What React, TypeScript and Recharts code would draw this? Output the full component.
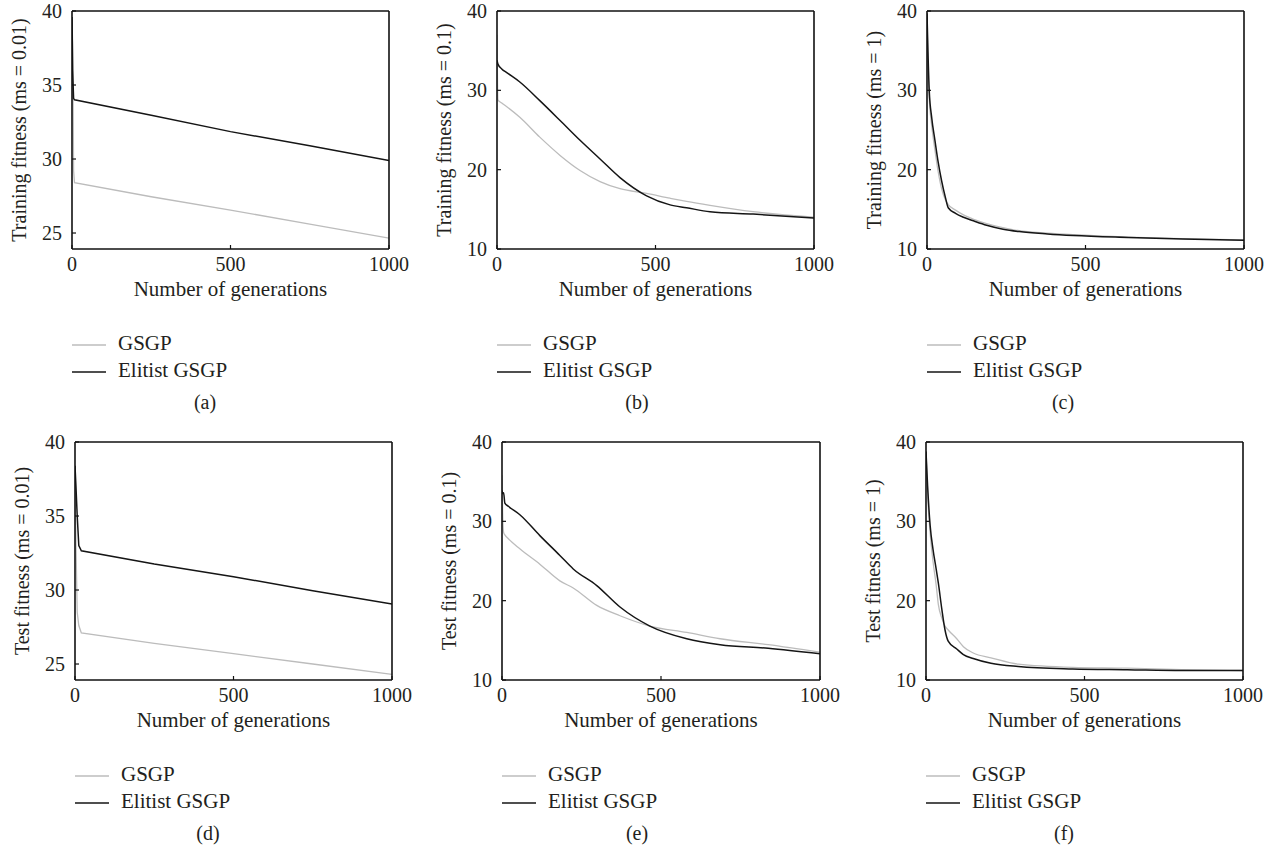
import React from 'react';
import { LineChart, Line, XAxis, YAxis, Legend, Label } from 'recharts';

// ---------- data ----------
const seriesNames = ['GSGP', 'Elitist GSGP'];
const seriesColors = ['#bcbcbc', '#151515'];
const xTicks = [0, 500, 1000];
const yTicksLow = [25, 30, 35, 40];
const yTicksHigh = [10, 20, 30, 40];

// (a) Training fitness, ms = 0.01
const genA = [0, 2, 5, 8, 250, 500, 750, 1000];
const gsgpA = [39.4, 37.8, 29.2, 28.4, 27.45, 26.55, 25.6, 24.65];
const elitistA = [39.6, 36.0, 34.1, 34.0, 32.95, 31.85, 30.9, 29.9];

// (b) Training fitness, ms = 0.1
const genB = [0, 3, 15, 32, 72, 135, 199, 262, 325, 388, 472, 546, 598, 672, 808, 1000];
const gsgpB = [37.0, 28.8, 28.4, 27.9, 26.6, 24.1, 21.8, 19.9, 18.5, 17.6, 17.0, 16.4, 16.0, 15.5, 14.7, 14.0];
const elitistB = [33.8, 33.3, 32.7, 32.2, 31.05, 28.7, 26.2, 23.7, 21.35, 19.0, 16.7, 15.56, 15.2, 14.7, 14.4, 13.9];

// (c) Training fitness, ms = 1
const genC = [0, 3, 7, 15, 25, 35, 46, 58, 67, 90, 115, 150, 188, 240, 291, 380, 463, 635, 807, 1000];
const gsgpC = [39.5, 33.0, 29.0, 25.5, 22.5, 19.8, 17.6, 16.2, 15.6, 14.9, 14.3, 13.7, 13.2, 12.7, 12.3, 12.0, 11.8, 11.5, 11.3, 11.15];
const elitistC = [39.7, 35.0, 30.0, 26.5, 23.7, 21.0, 18.6, 16.5, 15.2, 14.5, 14.0, 13.5, 13.0, 12.5, 12.2, 11.9, 11.7, 11.45, 11.25, 11.1];

// (d) Test fitness, ms = 0.01
const genD = [0, 3, 7, 12, 20, 250, 500, 750, 1000];
const gsgpD = [38.4, 33.0, 28.5, 27.6, 27.1, 26.4, 25.7, 25.0, 24.3];
const elitistD = [38.4, 37.0, 35.0, 33.0, 32.65, 31.75, 30.9, 29.95, 29.05];

// (e) Test fitness, ms = 0.1
const genE = [0, 2, 5, 9, 20, 57, 119, 182, 224, 298, 371, 465, 581, 686, 837, 1000];
const gsgpE = [35.8, 31.0, 28.6, 28.3, 27.8, 26.5, 24.6, 22.5, 21.6, 19.4, 18.1, 16.8, 16.0, 15.2, 14.45, 13.5];
const elitistE = [33.9, 33.5, 33.6, 32.3, 31.9, 30.8, 28.2, 25.7, 24.0, 21.9, 19.2, 16.8, 15.2, 14.45, 14.0, 13.3];

// (f) Test fitness, ms = 1
const genF = [0, 5, 13, 22, 32, 39, 50, 60, 70, 97, 118, 149, 205, 291, 463, 635, 807, 1000];
const gsgpF = [38.8, 33.5, 28.6, 25.0, 22.0, 19.5, 17.8, 16.8, 16.3, 15.2, 14.2, 13.4, 12.8, 12.0, 11.6, 11.5, 11.3, 11.2];
const elitistF = [38.8, 34.5, 29.5, 26.5, 24.0, 22.2, 18.9, 16.3, 14.9, 13.9, 13.2, 12.7, 12.1, 11.7, 11.4, 11.3, 11.2, 11.2];

const yLabels = [
  'Training fitness (ms = 0.01)',
  'Training fitness (ms = 0.1)',
  'Training fitness (ms = 1)',
  'Test fitness (ms = 0.01)',
  'Test fitness (ms = 0.1)',
  'Test fitness (ms = 1)',
];
const captions = ['(a)', '(b)', '(c)', '(d)', '(e)', '(f)'];
const xLabel = 'Number of generations';

// ---------- style / layout ----------
const FONT = '"Liberation Serif", "Times New Roman", serif';
const TEXT = '#231f20';
const FS = 20;
const FS_LABEL = 21;

type Box = { l: number; r: number; t: number; b: number };
type Spec = {
  left: number; top: number; width: number; height: number;
  plot: Box; gens: number[]; gsgp: number[]; elitist: number[];
  yDomain: [number, number]; yTicks: number[]; captionX: number;
  curve: 'linear' | 'monotoneX';
};

const specs: Spec[] = [
  { left: 0, top: 0, width: 425, height: 431, plot: { l: 72, r: 389, t: 11, b: 249 }, gens: genA, gsgp: gsgpA, elitist: elitistA, yDomain: [23.92, 40], yTicks: yTicksLow, captionX: 205, curve: 'linear' },
  { left: 425, top: 0, width: 425, height: 431, plot: { l: 497, r: 814, t: 11, b: 249 }, gens: genB, gsgp: gsgpB, elitist: elitistB, yDomain: [10, 40], yTicks: yTicksHigh, captionX: 637, curve: 'monotoneX' },
  { left: 850, top: 0, width: 424, height: 431, plot: { l: 927, r: 1244, t: 11, b: 249 }, gens: genC, gsgp: gsgpC, elitist: elitistC, yDomain: [10, 40], yTicks: yTicksHigh, captionX: 1063, curve: 'monotoneX' },
  { left: 0, top: 431, width: 425, height: 419, plot: { l: 75, r: 392, t: 442, b: 680 }, gens: genD, gsgp: gsgpD, elitist: elitistD, yDomain: [23.92, 40], yTicks: yTicksLow, captionX: 208, curve: 'linear' },
  { left: 425, top: 431, width: 425, height: 419, plot: { l: 502, r: 820, t: 442, b: 680 }, gens: genE, gsgp: gsgpE, elitist: elitistE, yDomain: [10, 40], yTicks: yTicksHigh, captionX: 637, curve: 'monotoneX' },
  { left: 850, top: 431, width: 424, height: 419, plot: { l: 926, r: 1243, t: 442, b: 680 }, gens: genF, gsgp: gsgpF, elitist: elitistF, yDomain: [10, 40], yTicks: yTicksHigh, captionX: 1064, curve: 'monotoneX' },
];

const YW = 60;
const XH = 60;
const TH = 2;
const RW = 2;
const frame = { stroke: '#111', strokeWidth: 1.6 };
const tickLineStyle = { stroke: '#111', strokeWidth: 1.2 };
const tickText = { fill: TEXT, fontSize: FS, fontFamily: FONT };

function Panel({ spec, idx }: { spec: Spec; idx: number }) {
  const { left, top, width, height, plot } = spec;
  const pl = plot.l - left;
  const pr = plot.r - left;
  const pt = plot.t - top;
  const pb = plot.b - top;
  const margin = { left: pl - YW, right: width - pr - RW, top: pt - TH, bottom: height - pb - XH };
  const data = spec.gens.map((g, i) => ({ gen: g, gsgp: spec.gsgp[i], elitist: spec.elitist[i] }));
  const legendTop = pb + 70;

  return (
    <div style={{ position: 'absolute', left, top, width, height }}>
      <LineChart width={width} height={height} data={data} margin={margin} style={{ fontFamily: FONT }}>
        <XAxis
          dataKey="gen"
          type="number"
          domain={[0, 1000]}
          ticks={xTicks}
          interval={0}
          allowDataOverflow
          height={XH}
          axisLine={frame}
          tickLine={tickLineStyle}
          tickSize={-4}
          tickMargin={12}
          tick={tickText}
        >
          <Label
            content={() => (
              <text x={(pl + pr) / 2} y={pb + 47} textAnchor="middle" fill={TEXT} fontSize={FS_LABEL} fontFamily={FONT}>
                {xLabel}
              </text>
            )}
          />
        </XAxis>
        <XAxis
          xAxisId="top"
          orientation="top"
          type="number"
          domain={[0, 1000]}
          ticks={xTicks}
          interval={0}
          allowDataOverflow
          height={TH}
          axisLine={frame}
          tickLine={tickLineStyle}
          tickSize={-4}
          tick={false}
        />
        <YAxis
          type="number"
          domain={spec.yDomain}
          ticks={spec.yTicks}
          interval={0}
          allowDataOverflow
          width={YW}
          axisLine={frame}
          tickLine={tickLineStyle}
          tickSize={-4}
          tickMargin={14}
          tick={tickText}
        >
          <Label
            content={() => {
              const x = pl - 46;
              const y = (pt + pb) / 2;
              return (
                <text x={x} y={y} transform={`rotate(-90, ${x}, ${y})`} textAnchor="middle" fill={TEXT} fontSize={FS} fontFamily={FONT}>
                  {yLabels[idx]}
                </text>
              );
            }}
          />
        </YAxis>
        <YAxis
          yAxisId="right"
          orientation="right"
          type="number"
          domain={spec.yDomain}
          ticks={spec.yTicks}
          interval={0}
          allowDataOverflow
          width={RW}
          axisLine={frame}
          tickLine={tickLineStyle}
          tickSize={-4}
          tick={false}
        />
        <Line type={spec.curve} dataKey="gsgp" name={seriesNames[0]} stroke={seriesColors[0]} strokeWidth={1.3} dot={false} activeDot={false} isAnimationActive={false} />
        <Line type={spec.curve} dataKey="elitist" name={seriesNames[1]} stroke={seriesColors[1]} strokeWidth={1.5} dot={false} activeDot={false} isAnimationActive={false} />
        <Legend
          layout="vertical"
          align="center"
          verticalAlign="middle"
          wrapperStyle={{ left: 0, top: legendTop, width, height: 110, margin: 0, padding: 0 }}
          content={() => (
            <svg width={width} height={110} style={{ display: 'block' }}>
              {seriesNames.map((n, i) => (
                <g key={n}>
                  <line x1={pl} x2={pl + 34} y1={26 + 27 * i} y2={26 + 27 * i} stroke={seriesColors[i]} strokeWidth={1.5} />
                  <text x={pl + 46} y={31 + 27 * i} fill={TEXT} fontSize={FS_LABEL} fontFamily={FONT}>
                    {n}
                  </text>
                </g>
              ))}
              <text x={spec.captionX - left} y={90} textAnchor="middle" fill={TEXT} fontSize={FS} fontFamily={FONT}>
                {captions[idx]}
              </text>
            </svg>
          )}
        />
      </LineChart>
    </div>
  );
}

export default function App() {
  return (
    <div
      style={{
        position: 'absolute',
        left: 0,
        top: 0,
        width: 1274,
        height: 850,
        background: '#fff',
        overflow: 'hidden',
        fontFamily: FONT,
      }}
    >
      {specs.map((s, i) => (
        <Panel key={i} spec={s} idx={i} />
      ))}
    </div>
  );
}
